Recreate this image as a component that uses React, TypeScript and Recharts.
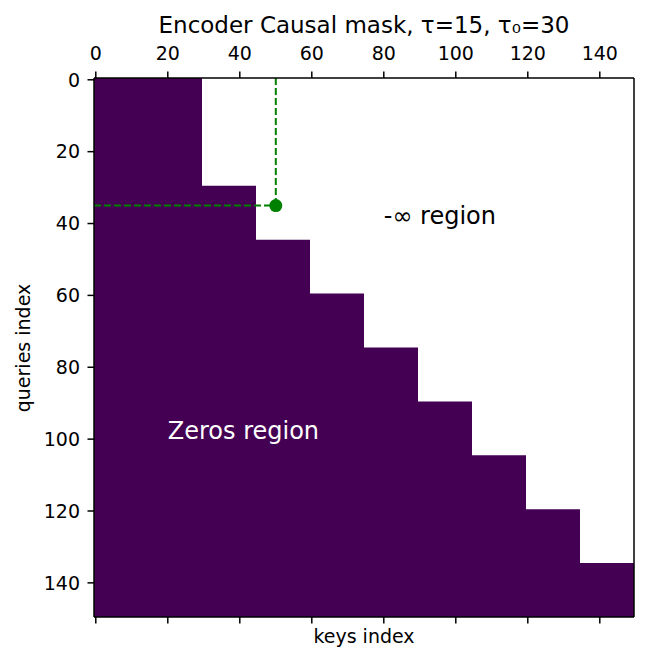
import React from 'react';
import {
  ComposedChart, XAxis, YAxis, ReferenceArea, ReferenceLine, Scatter, Label,
} from 'recharts';

// mask blocks: query rows from `start` down can see keys [0, end)
const blockStarts = [0, 30, 45, 60, 75, 90, 105, 120, 135];
const blockEnds = [30, 45, 60, 75, 90, 105, 120, 135, 150];
const axisTicks = [0, 20, 40, 60, 80, 100, 120, 140];

const markerKey = 50;
const markerQuery = 35;

const annotations = [
  { x: 80, y: 40, text: '-∞ region', color: '#000000' },
  { x: 20, y: 100, text: 'Zeros region', color: '#ffffff' },
];

const N = 150;
const DOMAIN: [number, number] = [-0.5, N - 0.5];
const PURPLE = '#440154';
const GREEN = '#008000';
const FONT = '"DejaVu Sans", sans-serif';

const tickStyle = { fontSize: 19, fill: '#000', fontFamily: FONT };
const lineStyle = { stroke: '#000', strokeWidth: 1.5 };

export default function App() {
  const marker = [{ x: markerKey, y: markerQuery }];

  return (
    <div style={{ position: 'absolute', left: 0, top: 0, background: '#fff' }}>
      <ComposedChart width={648} height={666} margin={{ top: 0, right: 0, bottom: 0, left: 0 }}>
        <XAxis
          xAxisId="top" orientation="top" dataKey="x" type="number" domain={DOMAIN} ticks={axisTicks}
          allowDataOverflow height={78} tickSize={6.5} tickMargin={11.5}
          tick={tickStyle} axisLine={lineStyle} tickLine={lineStyle}
        >
          <Label
            content={() => (
              <text x={364} y={33} textAnchor="middle" fontSize={23} fontFamily={FONT} fill="#000">
                Encoder Causal mask, τ=15, τ₀=30
              </text>
            )}
          />
        </XAxis>
        <XAxis
          dataKey="x" type="number" domain={DOMAIN} ticks={axisTicks} allowDataOverflow height={49}
          tickSize={6.5} tickFormatter={() => ''} axisLine={lineStyle} tickLine={lineStyle}
        >
          <Label
            content={() => (
              <text x={364} y={643} textAnchor="middle" fontSize={19} fontFamily={FONT} fill="#000">
                keys index
              </text>
            )}
          />
        </XAxis>
        <YAxis
          dataKey="y" type="number" domain={DOMAIN} ticks={axisTicks} reversed allowDataOverflow width={94}
          tickSize={6.5} tickMargin={7.5} tick={tickStyle} axisLine={lineStyle} tickLine={lineStyle}
        >
          <Label
            content={() => (
              <text
                x={30} y={348} textAnchor="middle" fontSize={19} fontFamily={FONT} fill="#000"
                transform="rotate(-90 30 348)"
              >
                queries index
              </text>
            )}
          />
        </YAxis>
        <YAxis
          yAxisId="right" orientation="right" dataKey="y" type="number" domain={DOMAIN} width={14}
          tick={false} tickLine={false} axisLine={lineStyle}
        />

        {/* each block runs to the bottom so the overlaps leave no seams */}
        {blockStarts.map((s, i) => (
          <ReferenceArea
            key={s}
            x1={DOMAIN[0]} x2={blockEnds[i] - 0.5}
            y1={s - 0.5} y2={DOMAIN[1]}
            fill={PURPLE} fillOpacity={1} stroke="none" ifOverflow="hidden"
          />
        ))}

        <ReferenceLine
          segment={[{ x: markerKey, y: DOMAIN[0] }, { x: markerKey, y: markerQuery }]}
          stroke={GREEN} strokeWidth={2} strokeDasharray="7 3"
        />
        <ReferenceLine
          segment={[{ x: DOMAIN[0], y: markerQuery }, { x: markerKey, y: markerQuery }]}
          stroke={GREEN} strokeWidth={2} strokeDasharray="7 3"
        />
        {/* hidden series so the top and right axes get a scale */}
        <Scatter
          data={marker} xAxisId="top" yAxisId="right" isAnimationActive={false}
          shape={() => <g />}
        />
        <Scatter
          data={marker} isAnimationActive={false}
          shape={(p: any) => <circle cx={p.cx} cy={p.cy} r={6.5} fill={GREEN} />}
        />
        <Scatter
          data={annotations} isAnimationActive={false}
          shape={(p: any) => (
            <text x={p.cx} y={p.cy} fontSize={24} fontFamily={FONT} fill={p.payload.color}>
              {p.payload.text}
            </text>
          )}
        />
      </ComposedChart>
    </div>
  );
}
